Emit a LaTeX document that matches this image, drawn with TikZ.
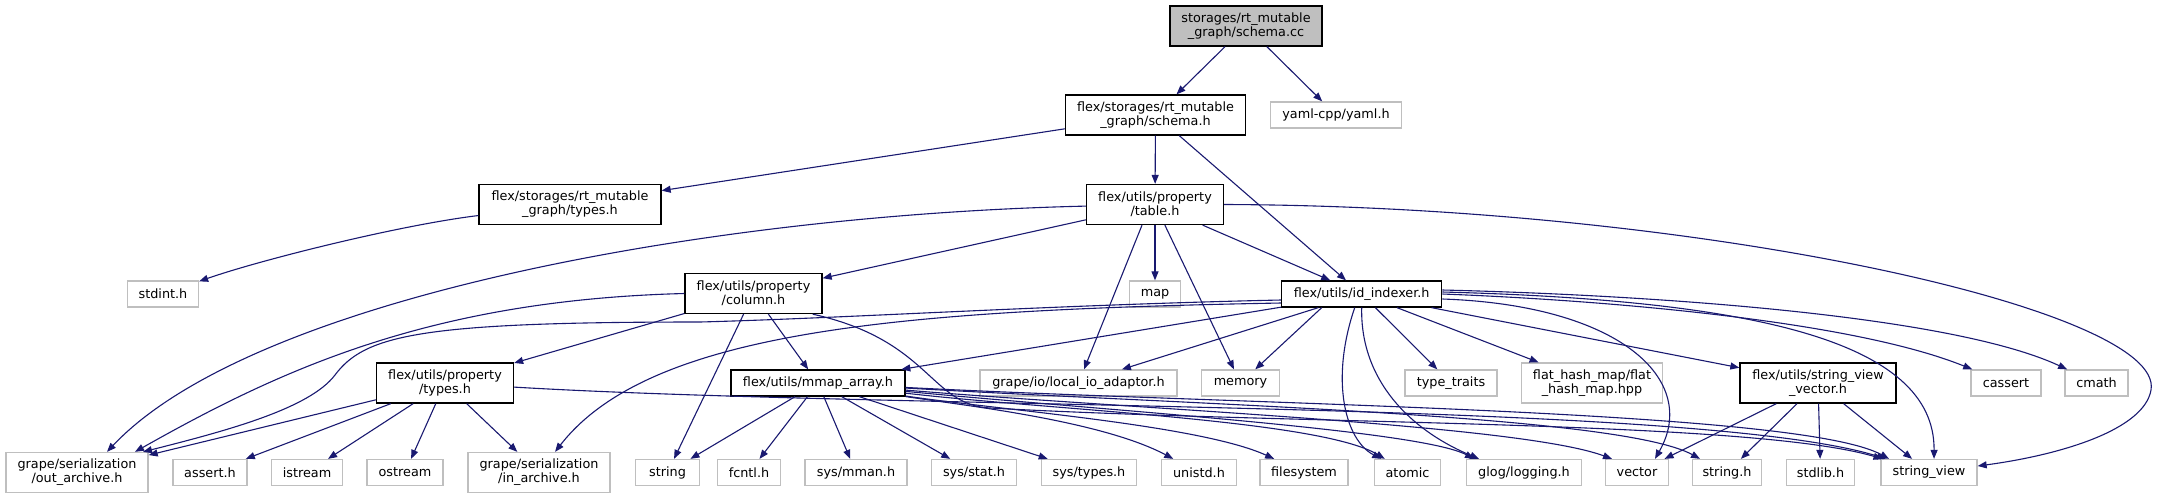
\documentclass[tikz,border=0pt]{standalone}
\usepackage{fontspec}
\setmainfont{DejaVu Sans}
\usepackage{tikz}
\usetikzlibrary{arrows.meta}
\definecolor{edgeblue}{HTML}{191970}
\definecolor{boxgray}{HTML}{BFBFBF}

\begin{document}
\begin{tikzpicture}[x=1pt,y=-1pt,font=\fontsize{12.8}{14}\selectfont,
  hfile/.style={draw=black,fill=white,line width=1.3pt,inner sep=0pt,align=center,minimum height=26pt},
  sysfile/.style={draw=boxgray,fill=white,line width=1.3pt,inner sep=0pt,align=center,minimum height=26pt},
  tall/.style={minimum height=40pt},
  dep/.style={edgeblue,line width=1.1pt,-{Triangle[length=9pt,width=7pt]}}]
\useasboundingbox (0,0) rectangle (2157,499);

%%%%%%%%%%%%%%%%%%%%%%%%%%%% upper rows
\node[hfile,tall,fill=boxgray,minimum width=152pt] (root) at (1246,26) {storages/rt\_mutable\\\_graph/schema.cc};
\node[hfile,tall,minimum width=180pt] (schema) at (1155.5,115) {flex/storages/rt\_mutable\\\_graph/schema.h};
\node[sysfile,minimum width=131pt] (yaml) at (1336,115) {yaml-cpp/yaml.h};
\node[hfile,tall,minimum width=182pt] (stypes) at (570,204.5) {flex/storages/rt\_mutable\\\_graph/types.h};
\node[hfile,tall,minimum width=137pt] (table) at (1155,204.5) {flex/utils/property\\/table.h};
\node[sysfile,minimum width=71pt] (stdint) at (163,294) {stdint.h};
\node[hfile,tall,minimum width=137pt] (column) at (753.5,293.5) {flex/utils/property\\/column.h};
\node[sysfile,minimum width=51pt] (map) at (1155,294) {map};
\node[hfile,minimum width=160pt] (idx) at (1361.7,294) {flex/utils/id\_indexer.h};
%%%%%%%%%%%%%%%%%%%%%%%%%%%% middle row
\node[hfile,tall,minimum width=137pt] (ptypes) at (445,383) {flex/utils/property\\/types.h};
\node[hfile,minimum width=174pt] (mmap) at (818,383) {flex/utils/mmap\_array.h};
\node[sysfile,minimum width=197pt] (localio) at (1078.5,383) {grape/io/local\_io\_adaptor.h};
\node[sysfile,minimum width=78pt] (memory) at (1240.5,383) {memory};
\node[sysfile,minimum width=92pt] (typetraits) at (1451,383) {type\_traits};
\node[sysfile,tall,minimum width=141pt] (flathash) at (1592,383) {flat\_hash\_map/flat\\\_hash\_map.hpp};
\node[hfile,tall,minimum width=156pt] (svv) at (1818,383) {flex/utils/string\_view\\\_vector.h};
\node[sysfile,minimum width=70pt] (cassert) at (2006,383) {cassert};
\node[sysfile,minimum width=63pt] (cmath) at (2096.5,383) {cmath};
%%%%%%%%%%%%%%%%%%%%%%%%%%%% bottom row
\node[sysfile,tall,minimum width=142pt] (outarch) at (77,472.5) {grape/serialization\\/out\_archive.h};
\node[sysfile,minimum width=74pt] (assert) at (210,472.5) {assert.h};
\node[sysfile,minimum width=71pt] (istream) at (307,472.5) {istream};
\node[sysfile,minimum width=76pt] (ostream) at (405,472.5) {ostream};
\node[sysfile,tall,minimum width=142pt] (inarch) at (539,472.5) {grape/serialization\\/in\_archive.h};
\node[sysfile,minimum width=64pt] (string) at (667.5,472.5) {string};
\node[sysfile,minimum width=63pt] (fcntl) at (749,472.5) {fcntl.h};
\node[sysfile,minimum width=102pt] (mman) at (856,472.5) {sys/mman.h};
\node[sysfile,minimum width=85pt] (stat) at (974,472.5) {sys/stat.h};
\node[sysfile,minimum width=95pt] (systypes) at (1089,472.5) {sys/types.h};
\node[sysfile,minimum width=75pt] (unistd) at (1199,472.5) {unistd.h};
\node[sysfile,minimum width=88pt] (filesystem) at (1304,472.5) {filesystem};
\node[sysfile,minimum width=66pt] (atomic) at (1407.5,472.5) {atomic};
\node[sysfile,minimum width=115pt] (glog) at (1524,472.5) {glog/logging.h};
\node[sysfile,minimum width=63pt] (vector) at (1637,472.5) {vector};
\node[sysfile,minimum width=69pt] (stringh) at (1727,472.5) {string.h};
\node[sysfile,minimum width=68pt] (stdlib) at (1820.5,472.5) {stdlib.h};
\node[sysfile,minimum width=96pt] (strview) at (1929,472.5) {string\_view};

%%%%%%%%%%%%%%%%%%%%%%%%%%%% schema.cc, schema.h, types.h
\draw[dep] (root) -- (schema);\draw[dep] (root) -- (yaml);
\draw[dep] (schema) -- (stypes);\draw[dep] (schema) -- (table);\draw[dep] (schema) -- (idx);
\draw[dep] (stypes) .. controls (400,225) and (260,260) .. (stdint);
%%%%%%%%%%%%%%%%%%%%%%%%%%%% table.h
\draw[dep] (table) -- (column);\draw[dep] (table) -- (map);\draw[dep] (table) -- (memory);\draw[dep] (table) -- (idx);
\draw[dep] ([xshift=-13pt]table.south) -- (localio);
\draw[dep] (table) .. controls (700,215) and (250,300) .. ([xshift=30pt]outarch.north);
\draw[dep] (table.east) .. controls (1700,206) and (2165,310) .. (2151,390) .. controls (2144,430) and (2060,455) .. (strview);
%%%%%%%%%%%%%%%%%%%%%%%%%%%% column.h
\draw[dep] (column) -- (ptypes);\draw[dep] (column) -- (string);\draw[dep] (column) -- (mmap);
\draw[dep] (column.west) .. controls (430,300) and (280,370) .. ([xshift=58pt]outarch.north);
\draw[dep] ([xshift=-10pt]column.south east) .. controls (930,340) and (930,405) .. (990,408) .. controls (1300,425) and (1750,420) .. (strview);
%%%%%%%%%%%%%%%%%%%%%%%%%%%% property/types.h
\draw[dep] (ptypes) -- (outarch);\draw[dep] (ptypes) -- (assert);\draw[dep] (ptypes) -- (istream);
\draw[dep] (ptypes) -- (ostream);\draw[dep] (ptypes) -- (inarch);
\draw[dep] (ptypes) .. controls (900,410) and (1700,400) .. (strview);
%%%%%%%%%%%%%%%%%%%%%%%%%%%% mmap_array.h
\draw[dep] (mmap) -- (string);\draw[dep] (mmap) -- (fcntl);\draw[dep] (mmap) -- (mman);
\draw[dep] (mmap) -- (stat);\draw[dep] (mmap) -- (systypes);
\draw[dep] (mmap) .. controls (960,405) and (1100,420) .. (unistd);
\draw[dep] (mmap) .. controls (1000,410) and (1200,425) .. (filesystem);
\draw[dep] (mmap) .. controls (1050,410) and (1320,420) .. (atomic);
\draw[dep] (mmap) .. controls (1100,410) and (1420,430) .. ([xshift=-50pt]glog.north);
\draw[dep] (mmap) .. controls (1150,410) and (1520,425) .. ([xshift=-25pt]vector.north);
\draw[dep] (mmap) .. controls (1200,405) and (1620,415) .. ([xshift=-27pt]stringh.north);
\draw[dep] (mmap) .. controls (1250,405) and (1800,410) .. ([xshift=-40pt]strview.north);
%%%%%%%%%%%%%%%%%%%%%%%%%%%% id_indexer.h
\draw[dep] (idx) -- (mmap);\draw[dep] (idx) -- (localio);\draw[dep] ([xshift=-40pt]idx.south) -- (memory);
\draw[dep] (idx) -- (typetraits);\draw[dep] (idx) -- (flathash);\draw[dep] (idx) -- (svv);
\draw[dep] ([yshift=-6pt]idx.west) .. controls (1050,305) and (850,318) .. (700,322) .. controls (420,322) and (365,335) .. (335,375) .. controls (310,408) and (230,430) .. ([xshift=66pt]outarch.north);
\draw[dep] ([yshift=-9pt]idx.west) .. controls (900,310) and (650,330) .. (inarch);
\draw[dep] ([xshift=-7pt]idx.south) .. controls (1330,380) and (1345,440) .. (atomic);
\draw[dep] (idx.south) .. controls (1360,380) and (1410,430) .. ([xshift=-45pt]glog.north);
\draw[dep] ([yshift=-5pt]idx.east) .. controls (1620,305) and (1700,380) .. ([xshift=18pt]vector.north);
\draw[dep] ([yshift=2pt]idx.east) .. controls (1750,300) and (1935,340) .. ([xshift=5pt]strview.north);
\draw[dep] (idx.east) .. controls (1600,300) and (1850,320) .. (cassert);
\draw[dep] ([yshift=4pt]idx.east) .. controls (1650,295) and (1950,315) .. (cmath);
%%%%%%%%%%%%%%%%%%%%%%%%%%%% string_view_vector.h
\draw[dep] (svv) -- (vector);\draw[dep] (svv) -- (stringh);\draw[dep] (svv) -- (stdlib);\draw[dep] (svv) -- (strview);

\end{tikzpicture}
\end{document}
